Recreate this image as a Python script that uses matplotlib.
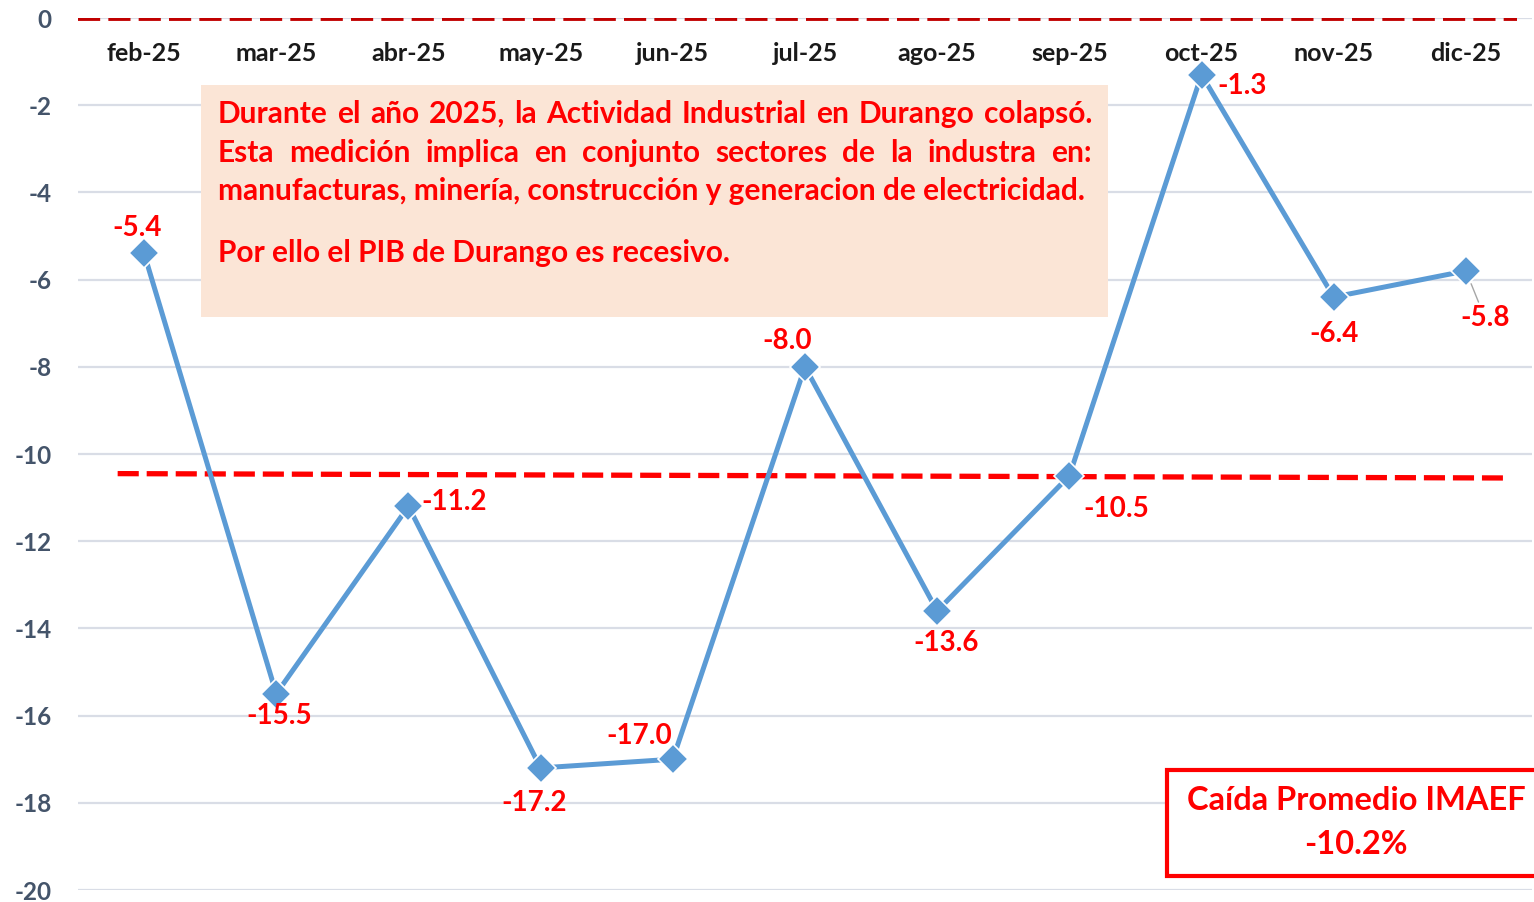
import numpy as np
import matplotlib
matplotlib.use('Agg')
import matplotlib.pyplot as plt
from matplotlib.patches import Rectangle
from matplotlib.transforms import IdentityTransform

plt.rcParams['font.family'] = ['Lato', 'DejaVu Sans']

# Datos
meses = ['feb-25', 'mar-25', 'abr-25', 'may-25', 'jun-25', 'jul-25',
         'ago-25', 'sep-25', 'oct-25', 'nov-25', 'dic-25']
imaef = [-5.4, -15.5, -11.2, -17.2, -17.0, -8.0, -13.6, -10.5, -1.3, -6.4, -5.8]
promedio_x = [-0.2, 10.28]
promedio_y = [-10.45, -10.55]
promedio_txt = ['Caída Promedio IMAEF', '-10.2%']
y_ticks = list(range(0, -21, -2))

# desplazamiento de las etiquetas (px)
lab_off = [(-7, 25), (3, -22), (46, 4), (-7, -35), (-34, 23), (-18, 26),
           (9, -32), (47, -33), (41, -11), (0, -37), (19, -47)]

W, H = 1534, 902
fig = plt.figure(figsize=(W / 100, H / 100), dpi=100)
ax = fig.add_axes([78 / W, 1 - 890 / H, 1454 / W, 872 / H])

x = np.arange(len(meses))
ax.set_xlim(-0.5, 10.5)
ax.set_ylim(-20, 0)

# rejilla
for yv in y_ticks:
    ax.axhline(yv, color='#D9DDE6', lw=1.6, zorder=0)

# linea de cero y promedio
ax.axhline(0, xmin=0, xmax=0.99, color='#C00000', lw=4.2, dashes=(3.8, 1.4), zorder=2)
ax.plot(promedio_x, promedio_y, color='#FF0000', lw=3.8, dashes=(4, 1.5), zorder=2)

# serie
ax.plot(x, imaef, color='#5B9BD5', lw=3.6, marker='D', markersize=15,
        markerfacecolor='#5B9BD5', markeredgecolor='white', markeredgewidth=1.2, zorder=4)

for i, v in enumerate(imaef):
    dx, dy = lab_off[i]
    props = None
    if i == len(imaef) - 1:
        props = dict(arrowstyle='-', color='#A6A6A6', lw=1, shrinkA=0, shrinkB=10)
    ax.annotate(f'{v:.1f}', (i, v), xytext=(dx * 0.72, dy * 0.72), textcoords='offset points',
                ha='center', va='center', color='#FF0000', fontsize=20, fontweight='bold',
                arrowprops=props, zorder=5)

# etiquetas de meses (debajo de la linea de cero)
for i, m in enumerate(meses):
    ax.text(i, -0.82, m, ha='center', va='center', fontsize=18, fontweight='bold', color='#1A1A1A')

ax.set_xticks([])
ax.set_yticks(y_ticks)
ax.set_yticklabels([str(t) for t in y_ticks])
ax.tick_params(axis='y', length=0, pad=19, labelsize=17.5, labelcolor='#44546A')
for lab in ax.get_yticklabels():
    lab.set_fontweight('bold')
for s in ax.spines.values():
    s.set_visible(False)

# cuadro de texto
ax.add_patch(Rectangle((201, H - 317), 907, 232, transform=IdentityTransform(),
                       facecolor='#FBE5D6', edgecolor='none', zorder=3))

fig.canvas.draw()
r = fig.canvas.get_renderer()


def ancho(s, fs):
    t = fig.text(0, 0, s, fontsize=fs, fontweight='bold')
    w = t.get_window_extent(r).width
    t.remove()
    return w


lineas = [
    ('Durante el año 2025, la Actividad Industrial en Durango colapsó.', 114, True),
    ('Esta medición implica en conjunto sectores de la industra en:', 153, True),
    ('manufacturas, minería, construcción y generacion de electricidad.', 191, False),
    ('Por ello el PIB de Durango es recesivo.', 253, False),
]
x0, x1 = 218, 1092
fs_box = 15 * 870 / ancho(lineas[2][0], 15)
for texto, ypx, just in lineas:
    if just:
        palabras = texto.split(' ')
        ws = [ancho(p, fs_box) for p in palabras]
        gap = (x1 - x0 - sum(ws)) / (len(palabras) - 1)
        xp = x0
        for p, w in zip(palabras, ws):
            ax.text(xp, H - ypx, p, transform=IdentityTransform(), ha='left', va='center',
                    fontsize=fs_box, fontweight='bold', color='#FF0000', zorder=6)
            xp += w + gap
    else:
        ax.text(x0, H - ypx, texto, transform=IdentityTransform(), ha='left', va='center',
                fontsize=fs_box, fontweight='bold', color='#FF0000', zorder=6)

# cuadro del promedio
ax.add_patch(Rectangle((1167, H - 876), 380, 106, transform=IdentityTransform(),
                       facecolor='white', edgecolor='#FF0000', lw=3, zorder=6, clip_on=False))
ax.text(1356, H - 801, promedio_txt[0], transform=IdentityTransform(), ha='center', va='center',
        fontsize=23.5, fontweight='bold', color='#FF0000', zorder=7)
ax.text(1356, H - 845, promedio_txt[1], transform=IdentityTransform(), ha='center', va='center',
        fontsize=23.5, fontweight='bold', color='#FF0000', zorder=7)

fig.savefig('out.png', dpi=100)
